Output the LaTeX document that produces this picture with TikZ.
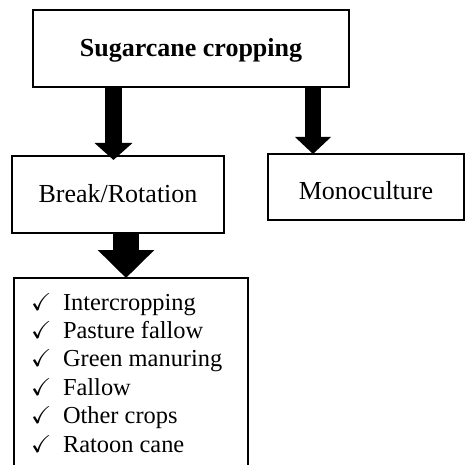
\documentclass[tikz,border=0pt]{standalone}
\usepackage{fontspec}
\usepackage{amssymb}
\setmainfont{Liberation Serif}
\usetikzlibrary{arrows.meta}
\tikzset{
  box/.style={draw=black, line width=1.6pt, inner sep=0pt, align=center, text depth=0pt, font=\fontsize{26}{30}\selectfont},
  item/.style={anchor=base west, inner sep=0pt, font=\fontsize{24.4}{28}\selectfont}
}
\begin{document}
\begin{tikzpicture}[x=1pt,y=-1pt]
\useasboundingbox (0,0) rectangle (464,465);
\node[box, minimum width=316pt, minimum height=77pt, text height=17pt] (top) at (191,48.5) {\textbf{Sugarcane cropping}};
\node[box, minimum width=212pt, minimum height=77pt, text height=15pt] (brk) at (118,194.5) {Break/Rotation};
\node[box, minimum width=196pt, minimum height=66pt, text height=24pt] (mono) at (366,187) {Monoculture};
% list box (open at bottom)
\coordinate (lbl) at (14,466);
\coordinate (ltl) at (14,278);
\coordinate (ltr) at (248,278);
\coordinate (lbr) at (248,466);
\draw[line width=1.6pt] (lbl) -- (ltl) -- (ltr) -- (lbr);
\node[item] (i1) at (31,310) {$\checkmark$\hspace{11.5pt}Intercropping};
\node[item] (i2) at (31,338.4) {$\checkmark$\hspace{11.5pt}Pasture fallow};
\node[item] (i3) at (31,366.8) {$\checkmark$\hspace{11.5pt}Green manuring};
\node[item] (i4) at (31,395.2) {$\checkmark$\hspace{11.5pt}Fallow};
\node[item] (i5) at (31,423.6) {$\checkmark$\hspace{11.5pt}Other crops};
\node[item] (i6) at (31,452) {$\checkmark$\hspace{11.5pt}Ratoon cane};
% arrows
\coordinate (a1s) at (113.5,87);
\coordinate (a1e) at (113.5,160);
\draw[line width=17pt, -{Triangle[length=17pt, width=37pt]}] (a1s) -- (a1e);
\coordinate (a2s) at (313,87);
\coordinate (a2e) at (313,154);
\draw[line width=16pt, -{Triangle[length=17pt, width=35pt]}] (a2s) -- (a2e);
\coordinate (a3s) at (126,233);
\coordinate (a3e) at (126,278);
\draw[line width=26pt, -{Triangle[length=28pt, width=55pt]}] (a3s) -- (a3e);
\end{tikzpicture}
\end{document}
